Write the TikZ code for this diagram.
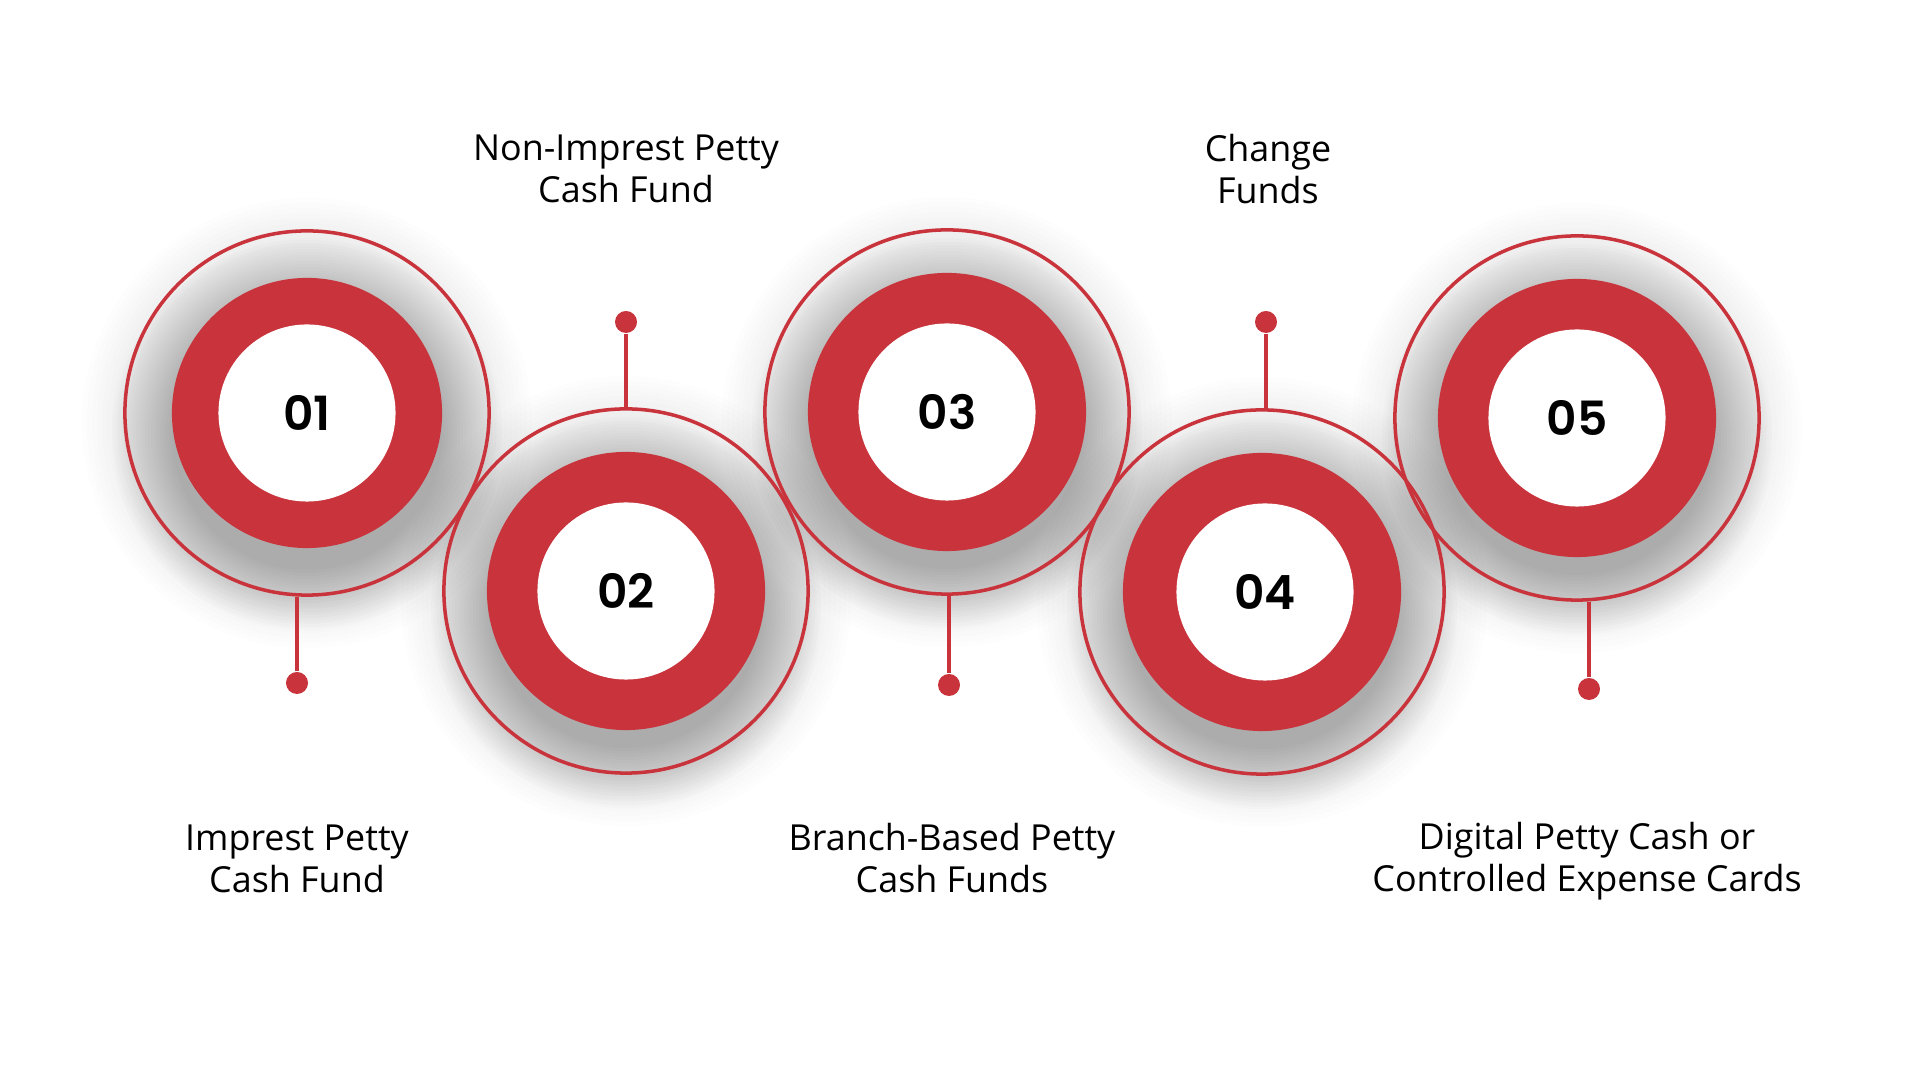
\documentclass[tikz,border=0pt]{standalone}
\usepackage{fontspec}
\setmainfont{Open Sans}
\newfontfamily\numfont{Poppins SemiBold}
\definecolor{ringred}{HTML}{C9343C}

\begin{document}
\begin{tikzpicture}[x=0.01cm, y=-0.01cm,
  hazestep/.style={black, opacity=0.006},
  shadestep/.style={black, opacity=0.012},
  rim/.style={circle, draw=ringred, line width=1pt, minimum size=3.64cm},
  ring/.style={circle, fill=ringred, minimum size=2.78cm},
  hub/.style={circle, fill=white, minimum size=1.77cm, font=\fontsize{13.4}{16}\numfont},
  dot/.style={circle, fill=ringred, inner sep=0pt, minimum size=0.22cm},
  stem/.style={draw=ringred, line width=1.1pt},
  caption/.style={align=center, font=\fontsize{10.2}{11.95}\selectfont}]
  \fill[white] (0,0) rectangle (1920,1080);

  % soft haze and shadows, built up from faint discs
  \foreach \cx/\cy in {307/413, 626/591, 947/412, 1262/592, 1577/418} {
    \foreach \s in {1.8,1.85,...,2.3}
      \fill[hazestep] (\cx,\cy+10) circle (\s cm);
    \foreach \s in {1.35,1.38,...,1.96}
      \fill[shadestep] (\cx,\cy+22) circle (\s cm);
  }

  % red rings and numbers
  \node[ring, minimum size=2.7cm] (r1) at (307, 413) {};
  \node[ring] (r2) at (626, 591) {};
  \node[ring] (r3) at (947, 412) {};
  \node[ring] (r4) at (1262, 592) {};
  \node[ring] (r5) at (1577, 418) {};
  \node[hub] (n1) at (r1) {01};
  \node[hub] (n2) at (r2) {02};
  \node[hub] (n3) at (r3) {03};
  \node[hub] (n4) at (1265, 592) {04};
  \node[hub] (n5) at (r5) {05};

  % thin outer rims
  \node[rim] (o1) at (307, 413) {};
  \node[rim] (o2) at (626, 591) {};
  \node[rim] (o3) at (947, 412) {};
  \node[rim] (o4) at (1262, 592) {};
  \node[rim] (o5) at (1577, 418) {};

  % pins
  \node[dot] (d1) at (297, 683) {};
  \node[dot] (d2) at (626, 322) {};
  \node[dot] (d3) at (949, 685) {};
  \node[dot] (d4) at (1266, 322) {};
  \node[dot] (d5) at (1589, 689) {};
  \draw[stem] (o1.south -| d1) -- (d1);
  \draw[stem] (d2) -- (o2.north -| d2);
  \draw[stem] (o3.south -| d3) -- (d3);
  \draw[stem] (d4) -- (o4.north -| d4);
  \draw[stem] (o5.south -| d5) -- (d5);

  % captions
  \node[caption] (t1) at (297, 859) {Imprest Petty\\Cash Fund};
  \node[caption] (t2) at (626, 169) {Non-Imprest Petty\\Cash Fund};
  \node[caption] (t3) at (952, 858) {Branch-Based Petty\\Cash Funds};
  \node[caption] (t4) at (1268, 169) {Change\\Funds};
  \node[caption] (t5) at (1587, 861) {Digital Petty Cash or\\Controlled Expense Cards};
\end{tikzpicture}
\end{document}
